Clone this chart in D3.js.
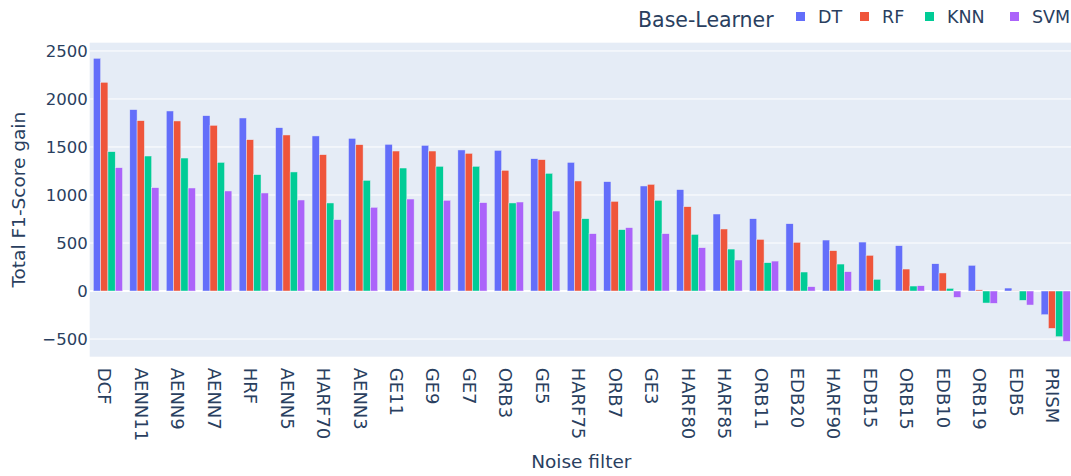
<!DOCTYPE html>
<html>
<head>
<meta charset="utf-8">
<script src="https://cdn.jsdelivr.net/npm/d3@7"></script>
<style>
  body { margin: 0; background: #fff; }
  text { font-family: "DejaVu Sans", sans-serif; fill: #2a3f5f; }
</style>
</head>
<body>
<script>
// data
var filters = ['DCF','AENN11','AENN9','AENN7','HRF','AENN5','HARF70','AENN3','GE11','GE9','GE7','ORB3','GE5','HARF75','ORB7','GE3','HARF80','HARF85','ORB11','EDB20','HARF90','EDB15','ORB15','EDB10','ORB19','EDB5','PRISM'];
var learners = ['DT','RF','KNN','SVM'];
var dt  = [2424,1889,1875,1826,1802,1701,1615,1590,1528,1517,1469,1465,1378,1340,1139,1094,1056,802,753,701,531,510,472,284,268,31,-247];
var rf  = [2174,1774,1771,1726,1576,1625,1420,1524,1458,1458,1434,1257,1368,1146,934,1111,878,646,538,507,420,372,229,188,12,3,-389];
var knn = [1451,1406,1385,1340,1212,1240,917,1153,1281,1299,1299,917,1226,753,639,945,590,437,295,198,281,122,52,28,-125,-97,-476];
var svm = [1284,1076,1073,1042,1021,948,743,872,958,945,920,927,833,597,660,597,451,323,312,45,201,0,55,-66,-128,-146,-524];
var yTicks = [-500,0,500,1000,1500,2000,2500];
var colors = ['#636efa','#EF553B','#00cc96','#ab63fa'];

var series = [dt, rf, knn, svm];
var width = 1071, height = 476;
var plot_left = 89.7, plot_right = 1073.9, plot_top = 42.7, plot_bottom = 356.7;

var svg = d3.select('body').append('svg')
    .attr('width', width)
    .attr('height', height)
    .style('display', 'block');

// plot background
svg.append('rect')
    .attr('x', plot_left).attr('y', plot_top)
    .attr('width', plot_right - plot_left).attr('height', plot_bottom - plot_top)
    .attr('fill', '#E5ECF6');

var x = d3.scaleBand().domain(filters).range([plot_left, plot_right])
    .paddingInner(0.2).paddingOuter(0.1);
var xInner = d3.scaleBand().domain(learners).range([0, x.bandwidth()]);
var y = d3.scaleLinear().domain([-684, 2586]).range([plot_bottom, plot_top]);

// gridlines
svg.append('g').selectAll('line').data(yTicks).enter().append('line')
    .attr('x1', plot_left).attr('x2', plot_right)
    .attr('y1', d => y(d)).attr('y2', d => y(d))
    .attr('stroke', '#fff')
    .attr('stroke-width', d => d === 0 ? 2 : 1);

// y tick labels
svg.append('g').selectAll('text').data(yTicks).enter().append('text')
    .attr('x', plot_left - 2)
    .attr('y', d => y(d) + 6)
    .attr('text-anchor', 'end')
    .style('font-size', '16.5px')
    .text(d => d3.format('d')(d).replace('-', '\u2212'));

// bars
learners.forEach(function(name, i) {
  svg.append('g').selectAll('rect').data(series[i]).enter().append('rect')
      .attr('x', (d, j) => x(filters[j]) + xInner(name))
      .attr('width', xInner.bandwidth())
      .attr('y', d => y(Math.max(0, d)))
      .attr('height', d => Math.abs(y(d) - y(0)))
      .attr('fill', colors[i])
      .attr('stroke', '#E5ECF6')
      .attr('stroke-width', 0.5);
});

// x tick labels, rotated
svg.append('g').selectAll('text').data(filters).enter().append('text')
    .attr('transform', d => 'translate(' + (x(d) + x.bandwidth() / 2 - 3) + ',' + (plot_bottom + 11) + ') rotate(90)')
    .attr('dominant-baseline', 'central')
    .style('font-size', '18px')
    .text(d => d);

// axis titles
svg.append('text').text('Noise filter')
    .attr('x', (plot_left + plot_right) / 2 - 0.5)
    .attr('y', 468)
    .attr('text-anchor', 'middle')
    .style('font-size', '18.5px');
svg.append('text').text('Total F1-Score gain')
    .attr('transform', 'translate(25,' + ((plot_top + plot_bottom) / 2) + ') rotate(-90)')
    .attr('text-anchor', 'middle')
    .style('font-size', '18.5px');

// legend
var legend = svg.append('g');
legend.append('text').text('Base-Learner')
    .attr('x', 638).attr('y', 27)
    .style('font-size', '20.5px');
var legend_x = [796, 860, 925, 1010];
learners.forEach(function(name, i) {
  legend.append('rect')
      .attr('x', legend_x[i]).attr('y', 12)
      .attr('width', 9).attr('height', 9)
      .attr('fill', colors[i]);
  legend.append('text').text(name)
      .attr('x', legend_x[i] + 22).attr('y', 23)
      .style('font-size', '17.5px');
});
</script>
</body>
</html>
